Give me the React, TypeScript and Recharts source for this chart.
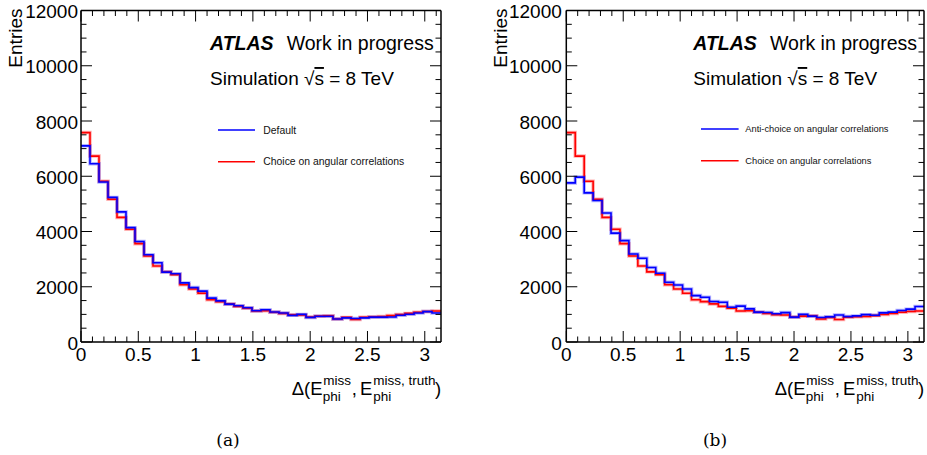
import React from "react";
import { LineChart, Line, XAxis, YAxis, Legend } from "recharts";

// bin contents, 40 bins over [0, pi]
const choiceCounts = [
  7580, 6730, 5820, 5170, 4510, 4080, 3560, 3115, 2750, 2540,
  2440, 2070, 1920, 1765, 1530, 1460, 1380, 1290, 1225, 1120,
  1130, 1075, 1035, 985, 975, 905, 935, 950, 830, 890,
  815, 895, 915, 925, 955, 995, 1035, 1075, 1105, 1120,
];

const defaultCounts = [
  7100, 6450, 5790, 5235, 4710, 4140, 3640, 3160, 2870, 2530,
  2470, 2140, 1970, 1840, 1590, 1490, 1370, 1310, 1240, 1130,
  1170, 1085, 1050, 965, 1000, 890, 930, 930, 830, 875,
  850, 875, 900, 900, 905, 970, 1005, 1050, 1100, 1050,
];

const antiChoiceCounts = [
  5760, 5970, 5400, 5120, 4670, 3940, 3670, 3185, 3030, 2695,
  2490, 2165, 2065, 1920, 1680, 1620, 1465, 1440, 1260, 1300,
  1200, 1080, 1070, 1020, 1065, 900, 1000, 935, 885, 910,
  980, 920, 945, 990, 970, 1055, 1080, 1140, 1190, 1285,
];

const nBins = 40;
const xMax = Math.PI;
const binEdges = Array.from({ length: nBins + 1 }, (_, i) => (i * xMax) / nBins);

const xMinorTicks = [
  0, 0.1, 0.2, 0.3, 0.4, 0.5, 0.6, 0.7, 0.8, 0.9, 1, 1.1, 1.2, 1.3, 1.4, 1.5,
  1.6, 1.7, 1.8, 1.9, 2, 2.1, 2.2, 2.3, 2.4, 2.5, 2.6, 2.7, 2.8, 2.9, 3, 3.1,
];
const xMajorTicks = [0, 0.5, 1, 1.5, 2, 2.5, 3];
const yMinorTicks = [
  0, 500, 1000, 1500, 2000, 2500, 3000, 3500, 4000, 4500, 5000, 5500, 6000,
  6500, 7000, 7500, 8000, 8500, 9000, 9500, 10000, 10500, 11000, 11500, 12000,
];
const yMajorTicks = [0, 2000, 4000, 6000, 8000, 10000, 12000];

const FONT = "'Liberation Sans', Arial, Helvetica, sans-serif";
const BLUE = "#0000ff";
const RED = "#ff0000";
const frameLine = { stroke: "#000", strokeWidth: 1.5 };

const isMajor = (v: number, majors: number[]) =>
  majors.some((m) => Math.abs(m - v) < 1e-6);

function BottomTick(props: any) {
  const { x, y, payload } = props;
  const major = isMajor(payload.value, xMajorTicks);
  return (
    <g>
      <line x1={x} x2={x} y1={y} y2={y - (major ? 11 : 5.5)} stroke="#000" />
      {major && (
        <text x={x} y={y + 19} textAnchor="middle" fontSize={19} fill="#000">
          {String(payload.value)}
        </text>
      )}
    </g>
  );
}

function TopTick(props: any) {
  const { x, y, payload } = props;
  const major = isMajor(payload.value, xMajorTicks);
  return <line x1={x} x2={x} y1={y} y2={y + (major ? 11 : 5.5)} stroke="#000" />;
}

function LeftTick(props: any) {
  const { x, y, payload, gap } = props;
  const major = isMajor(payload.value, yMajorTicks);
  return (
    <g>
      <line x1={x} x2={x + (major ? 11 : 5.5)} y1={y} y2={y} stroke="#000" />
      {major && (
        <text x={x - gap} y={y + 7.5} textAnchor="end" fontSize={19} fill="#000">
          {String(payload.value)}
        </text>
      )}
    </g>
  );
}

function RightTick(props: any) {
  const { x, y, payload } = props;
  const major = isMajor(payload.value, yMajorTicks);
  return <line x1={x} x2={x - (major ? 11 : 5.5)} y1={y} y2={y} stroke="#000" />;
}

function XTitle(props: any) {
  const { viewBox } = props;
  const r = viewBox.x + viewBox.width;
  const b = viewBox.y;
  const big = 18.5;
  const small = 13.5;
  return (
    <g fill="#000" fontFamily={FONT}>
      <text x={r - 149.3} y={b + 53} fontSize={big}>Δ(E</text>
      <text x={r - 117.7} y={b + 42.5} fontSize={small}>miss</text>
      <text x={r - 118.3} y={b + 58.5} fontSize={small}>phi</text>
      <text x={r - 89.3} y={b + 53} fontSize={big}>,</text>
      <text x={r - 81} y={b + 53} fontSize={big}>E</text>
      <text x={r - 67.7} y={b + 42.5} fontSize={small}>miss, truth</text>
      <text x={r - 67.7} y={b + 58.5} fontSize={small}>phi</text>
      <text x={r - 6} y={b + 53} fontSize={big}>)</text>
    </g>
  );
}

function YTitle(props: any) {
  const { viewBox } = props;
  const tx = viewBox.x + viewBox.width - 59;
  const ty = viewBox.y - 2;
  return (
    <text
      x={tx}
      y={ty}
      transform={`rotate(-90 ${tx} ${ty})`}
      textAnchor="end"
      fontSize={19}
      fill="#000"
      fontFamily={FONT}
    >
      Entries
    </text>
  );
}

function makeLegend(order: string[], fontSize: number, lineLen: number, textX: number) {
  return (props: any) => {
    const items = order
      .map((name) => (props.payload || []).find((p: any) => p.value === name))
      .filter(Boolean);
    return (
      <svg width={240} height={62} style={{ overflow: "visible" }}>
        {items.map((it: any, i: number) => {
          const yy = 15 + i * 31.7;
          return (
            <g key={it.value}>
              <line x1={0} x2={lineLen} y1={yy} y2={yy} stroke={it.color} strokeWidth={1.6} />
              <text x={textX} y={yy + fontSize * 0.35} fontSize={fontSize} fill="#111" fontFamily={FONT}>
                {it.value}
              </text>
            </g>
          );
        })}
      </svg>
    );
  };
}

interface PanelProps {
  width: number;
  plotLeft: number;
  plotRight: number;
  labelGap: number;
  blueName: string;
  blueCounts: number[];
  legendLeft: number;
  legendTop: number;
  legendFont: number;
  legendLine: number;
  legendTextX: number;
}

// axes get a 1px box (a 0 size box is not drawn); margins make up for it
const AX = 1;

function Panel(p: PanelProps) {
  const rows = binEdges.map((x, i) => ({
    x,
    blue: p.blueCounts[Math.min(i, nBins - 1)],
    red: choiceCounts[Math.min(i, nBins - 1)],
  }));
  const names = [p.blueName, "Choice on angular correlations"];

  return (
    <LineChart
      width={p.width}
      height={455}
      data={rows}
      margin={{
        top: 10.5 - AX,
        bottom: 113 - AX,
        left: p.plotLeft - AX,
        right: p.width - p.plotRight - AX,
      }}
      style={{ fontFamily: FONT }}
    >
      <XAxis
        xAxisId="bottom"
        type="number"
        dataKey="x"
        domain={[0, xMax]}
        allowDataOverflow
        ticks={xMinorTicks}
        interval={0}
        height={AX}
        tickSize={0}
        tickMargin={0}
        tickLine={false}
        axisLine={frameLine}
        tick={<BottomTick />}
        label={<XTitle />}
      />
      <XAxis
        xAxisId="top"
        orientation="top"
        type="number"
        dataKey="x"
        domain={[0, xMax]}
        allowDataOverflow
        ticks={xMinorTicks}
        interval={0}
        height={AX}
        tickSize={0}
        tickMargin={0}
        tickLine={false}
        axisLine={frameLine}
        tick={<TopTick />}
      />
      <YAxis
        yAxisId="left"
        type="number"
        domain={[0, 12000]}
        allowDataOverflow
        ticks={yMinorTicks}
        interval={0}
        width={AX}
        tickSize={0}
        tickMargin={0}
        tickLine={false}
        axisLine={frameLine}
        tick={<LeftTick gap={p.labelGap} />}
        label={<YTitle />}
      />
      <YAxis
        yAxisId="right"
        orientation="right"
        type="number"
        domain={[0, 12000]}
        allowDataOverflow
        ticks={yMinorTicks}
        interval={0}
        width={AX}
        tickSize={0}
        tickMargin={0}
        tickLine={false}
        axisLine={frameLine}
        tick={<RightTick />}
      />
      <Legend
        layout="vertical"
        verticalAlign="middle"
        align="center"
        wrapperStyle={{ left: p.legendLeft, top: p.legendTop, width: 240, height: 62 }}
        content={makeLegend(names, p.legendFont, p.legendLine, p.legendTextX)}
      />
      <Line
        xAxisId="bottom"
        yAxisId="left"
        type="stepAfter"
        dataKey="red"
        stroke={RED}
        strokeOpacity={0.3}
        strokeWidth={3.5}
        dot={false}
        activeDot={false}
        legendType="none"
        isAnimationActive={false}
      />
      <Line
        xAxisId="bottom"
        yAxisId="left"
        type="stepAfter"
        dataKey="blue"
        stroke={BLUE}
        strokeOpacity={0.3}
        strokeWidth={3.5}
        dot={false}
        activeDot={false}
        legendType="none"
        isAnimationActive={false}
      />
      <Line
        xAxisId="bottom"
        yAxisId="left"
        type="stepAfter"
        dataKey="red"
        name="Choice on angular correlations"
        stroke={RED}
        strokeWidth={1.6}
        dot={false}
        activeDot={false}
        isAnimationActive={false}
      />
      <Line
        xAxisId="bottom"
        yAxisId="left"
        type="stepAfter"
        dataKey="blue"
        name={p.blueName}
        stroke={BLUE}
        strokeWidth={1.6}
        dot={false}
        activeDot={false}
        isAnimationActive={false}
      />
    </LineChart>
  );
}

function Atlas({ x }: { x: number }) {
  return (
    <g fill="#000" fontFamily={FONT}>
      <text x={x} y={50} fontSize={19.5} fontWeight="bold" fontStyle="italic">ATLAS</text>
      <text x={x + 76.7} y={50} fontSize={19.5}>Work in progress</text>
      <text x={x} y={85} fontSize={19}>
        Simulation √<tspan style={{ textDecoration: "overline" }}>s</tspan> = 8 TeV
      </text>
    </g>
  );
}

export default function App() {
  return (
    <div
      style={{
        position: "absolute",
        left: 0,
        top: 0,
        width: 927,
        height: 455,
        background: "#fff",
        fontFamily: FONT,
      }}
    >
      <div style={{ position: "absolute", left: 0, top: 0 }}>
        <Panel
          width={463}
          plotLeft={81}
          plotRight={441}
          labelGap={3}
          blueName="Default"
          blueCounts={defaultCounts}
          legendLeft={218}
          legendTop={115}
          legendFont={10.4}
          legendLine={37}
          legendTextX={45.3}
        />
      </div>
      <div style={{ position: "absolute", left: 463, top: 0 }}>
        <Panel
          width={464}
          plotLeft={103.3}
          plotRight={461}
          labelGap={4.5}
          blueName="Anti-choice on angular correlations"
          blueCounts={antiChoiceCounts}
          legendLeft={237.7}
          legendTop={114.3}
          legendFont={9.3}
          legendLine={37.6}
          legendTextX={44.3}
        />
      </div>
      <svg
        width={927}
        height={455}
        style={{ position: "absolute", left: 0, top: 0, pointerEvents: "none" }}
      >
        <Atlas x={210} />
        <Atlas x={693.3} />
        <text x={228} y={446} textAnchor="middle" fontSize={17} fontFamily="'DejaVu Serif', serif" fill="#000">(a)</text>
        <text x={715} y={446} textAnchor="middle" fontSize={17} fontFamily="'DejaVu Serif', serif" fill="#000">(b)</text>
      </svg>
    </div>
  );
}
